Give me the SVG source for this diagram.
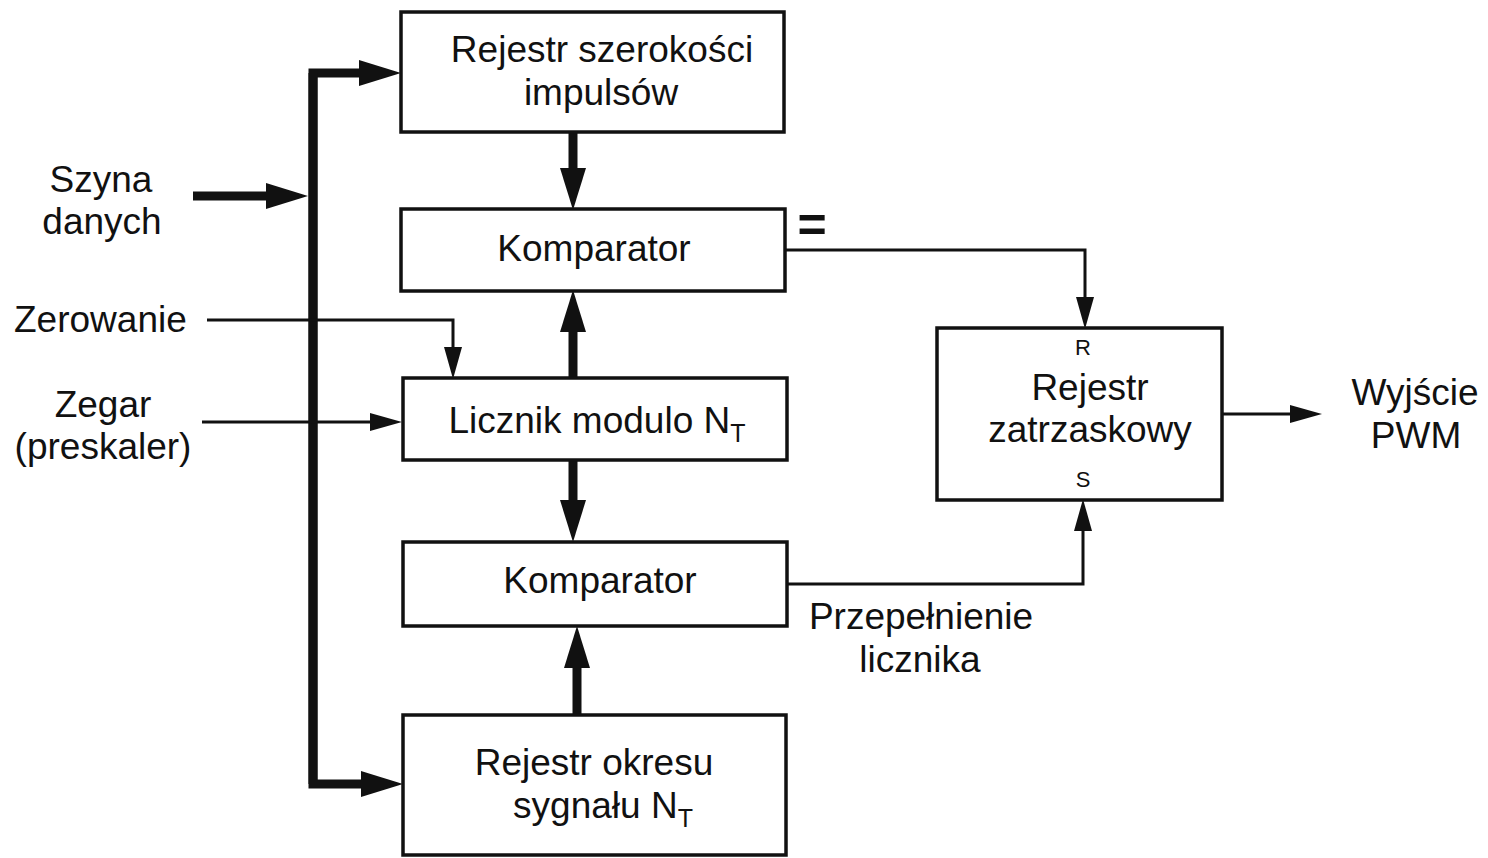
<svg xmlns="http://www.w3.org/2000/svg" width="1488" height="858" viewBox="0 0 1488 858">
  <style>
    .box { fill: #fff; stroke: #111; stroke-width: 3.5; }
    .lbl { font-family: "Liberation Sans", Arial, sans-serif; font-size: 37px; fill: #111; }
    .mid { text-anchor: middle; }
    .sub { font-size: 25px; }
    .pin { font-family: "Liberation Sans", Arial, sans-serif; font-size: 22px; fill: #111; text-anchor: middle; }
    .bus { fill: none; stroke: #111; stroke-width: 9; stroke-linejoin: miter; }
    .wire { fill: none; stroke: #111; stroke-width: 3; }
  </style>
  <defs>
    <marker id="headBig" markerUnits="userSpaceOnUse" viewBox="0 -13 42 26" markerWidth="42" markerHeight="26" refX="0" refY="0" orient="auto">
      <path d="M0,-13 L42,0 L0,13 z" fill="#111"/>
    </marker>
    <marker id="headSmall" markerUnits="userSpaceOnUse" viewBox="0 -9 32 18" markerWidth="32" markerHeight="18" refX="0" refY="0" orient="auto">
      <path d="M0,-9 L32,0 L0,9 z" fill="#111"/>
    </marker>
  </defs>

  <rect width="1488" height="858" fill="#fff"/>

  <!-- connectors -->
  <g id="connectors">
    <!-- data bus -->
    <path class="bus" d="M313,784 V73 H359" marker-end="url(#headBig)"/>
    <path class="bus" d="M313,73 V784 H361" marker-end="url(#headBig)"/>
    <path class="bus" d="M193,196 H266" marker-end="url(#headBig)"/>
    <!-- register/counter paths into comparators -->
    <path class="bus" d="M573,132 V168" marker-end="url(#headBig)"/>
    <path class="bus" d="M573,378 V332" marker-end="url(#headBig)"/>
    <path class="bus" d="M573,460 V500" marker-end="url(#headBig)"/>
    <path class="bus" d="M577,715 V668" marker-end="url(#headBig)"/>
    <!-- control signals -->
    <path class="wire" d="M207,320 H453 V347" marker-end="url(#headSmall)"/>
    <path class="wire" d="M202,422 H370" marker-end="url(#headSmall)"/>
    <path class="wire" d="M785,250 H1085 V297" marker-end="url(#headSmall)"/>
    <path class="wire" d="M787,584 H1083 V531" marker-end="url(#headSmall)"/>
    <path class="wire" d="M1222,414 H1290" marker-end="url(#headSmall)"/>
  </g>

  <!-- blocks -->
  <g id="pulse-width-register">
    <rect class="box" x="401" y="12" width="383" height="120"/>
    <text class="lbl mid" x="602" y="62">Rejestr szerokości</text>
    <text class="lbl mid" x="601" y="105">impulsów</text>
  </g>
  <g id="comparator-1">
    <rect class="box" x="401" y="209" width="384" height="82"/>
    <text class="lbl mid" x="594" y="261">Komparator</text>
  </g>
  <g id="counter">
    <rect class="box" x="403" y="378" width="384" height="82"/>
    <text class="lbl mid" x="597" y="433">Licznik modulo N<tspan class="sub" dy="9">T</tspan></text>
  </g>
  <g id="comparator-2">
    <rect class="box" x="403" y="542" width="384" height="84"/>
    <text class="lbl mid" x="600" y="593">Komparator</text>
  </g>
  <g id="period-register">
    <rect class="box" x="403" y="715" width="383" height="140"/>
    <text class="lbl mid" x="594" y="775">Rejestr okresu</text>
    <text class="lbl mid" x="603" y="818">sygnału N<tspan class="sub" dy="9">T</tspan></text>
  </g>
  <g id="latch">
    <rect class="box" x="937" y="328" width="285" height="172"/>
    <text class="pin" x="1083" y="355">R</text>
    <text class="lbl mid" x="1090" y="400">Rejestr</text>
    <text class="lbl mid" x="1090" y="442">zatrzaskowy</text>
    <text class="pin" x="1083" y="487">S</text>
  </g>

  <!-- free labels -->
  <g id="labels">
    <text class="lbl mid" x="101" y="192">Szyna</text>
    <text class="lbl mid" x="102" y="234">danych</text>
    <text class="lbl" x="14" y="332">Zerowanie</text>
    <text class="lbl mid" x="103" y="417">Zegar</text>
    <text class="lbl mid" x="103" y="459">(preskaler)</text>
    <text class="lbl mid" x="812" y="242" style="font-size:50px;font-weight:bold">=</text>
    <text class="lbl mid" x="921" y="629">Przepełnienie</text>
    <text class="lbl mid" x="920" y="672">licznika</text>
    <text class="lbl mid" x="1415" y="405">Wyjście</text>
    <text class="lbl mid" x="1416" y="448">PWM</text>
  </g>
</svg>
